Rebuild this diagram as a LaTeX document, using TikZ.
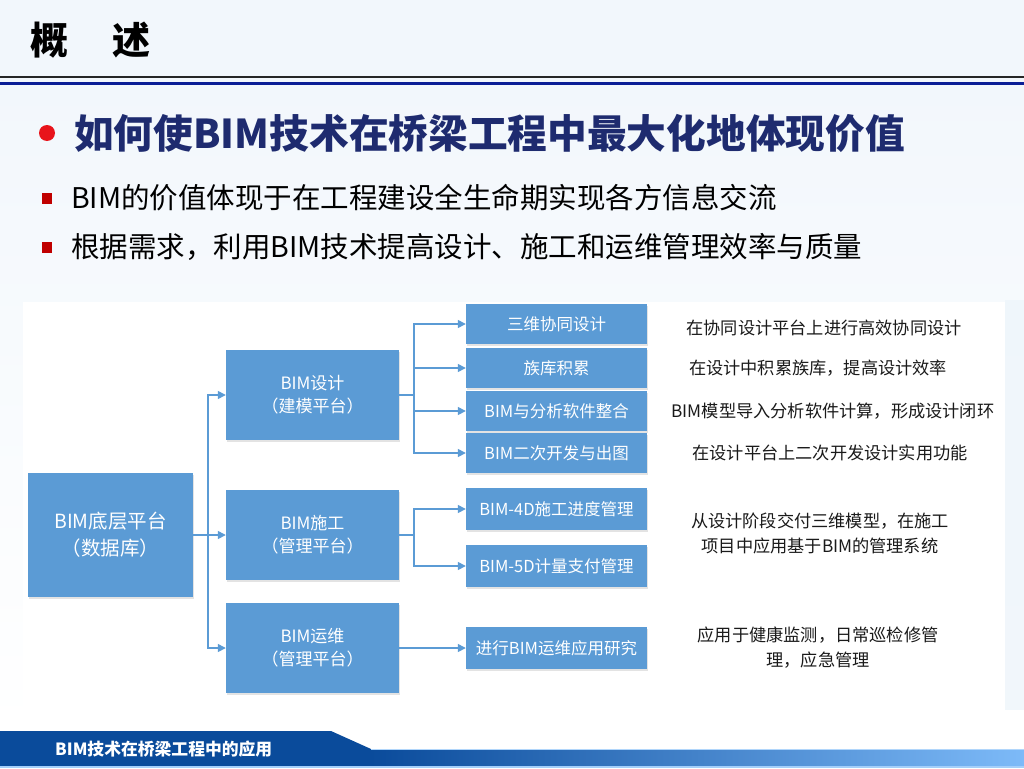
\documentclass[tikz,border=0pt]{standalone}
\usepackage{fontspec}
\setmainfont{Noto Sans CJK SC}
\usetikzlibrary{arrows.meta,shadows}
\definecolor{boxblue}{HTML}{5B9BD5}
\definecolor{navy}{HTML}{1E2B6F}
\definecolor{lineblue}{HTML}{0A1E96}
\definecolor{footdark}{HTML}{0A4B9B}
\definecolor{footlight}{HTML}{7DBAF8}
\definecolor{bgtop}{HTML}{F2F7FC}
\definecolor{bgmid}{HTML}{EEF5FB}
\definecolor{bulletred}{HTML}{E8141B}
\definecolor{squarered}{HTML}{C00000}
\definecolor{desctext}{HTML}{1A1A1A}
\tikzset{
  box/.style={fill=boxblue, text=white, inner sep=0pt, align=center,
    drop shadow={shadow xshift=1pt, shadow yshift=-1.5pt, opacity=0.22}},
  leftbox/.style={box, minimum width=165pt, minimum height=124pt, font=\fontsize{19.5}{27}\selectfont},
  midbox/.style={box, minimum width=173pt, minimum height=90pt, font=\fontsize{17}{23}\selectfont},
  rightbox/.style={box, minimum width=181pt, minimum height=40pt, font=\fontsize{16.5}{20}\selectfont},
  desc/.style={text=desctext, align=center, inner sep=0pt, font=\fontsize{17.2}{25}\selectfont},
  conn/.style={draw=boxblue, line width=1.4pt},
  arr/.style={conn, -{Triangle[length=8pt,width=8pt]}},
}
\begin{document}
\begin{tikzpicture}[x=1pt,y=-1pt]
\useasboundingbox (0,0) rectangle (1024,768);
% background
\fill[bgtop] (0,0) rectangle (1024,80);
\shade[top color=bgtop, bottom color=white] (0,80) rectangle (1024,730);
\fill[white] (0,730) rectangle (1024,768);
\fill[bgmid, opacity=0.8] (1005,300) rectangle (1024,710);
\fill[white] (23,302) rectangle (1005,712);
% title
\node[anchor=west, inner sep=0pt, font=\fontsize{38}{40}\selectfont\bfseries] (title) at (30,40) {概\hspace{44pt}述};
\draw[black!85, line width=1.2pt] (0,77) -- (1024,77);
\draw[lineblue, line width=3pt] (0,83.5) -- (1024,83.5);
% heading
\fill[bulletred] (47,133) circle (8);
\node[anchor=west, inner sep=0pt, text=navy, font=\fontsize{39.7}{44}\selectfont\bfseries] (head) at (74,133) {如何使BIM技术在桥梁工程中最大化地体现价值};
% bullets
\fill[squarered] (42,193) rectangle (52,204);
\node[anchor=west, inner sep=0pt, font=\fontsize{28.5}{32}\selectfont] (b1) at (71,198) {BIM的价值体现于在工程建设全生命期实现各方信息交流};
\fill[squarered] (42,242) rectangle (52,253);
\node[anchor=west, inner sep=0pt, font=\fontsize{28.5}{32}\selectfont] (b2) at (71,247) {根据需求，利用BIM技术提高设计、施工和运维管理效率与质量};
% diagram boxes
\node[leftbox] (L) at (110.5,535) {BIM底层平台\\（数据库）};
\node[midbox] (M1) at (312.5,395) {BIM设计\\（建模平台）};
\node[midbox] (M2) at (312.5,535) {BIM施工\\（管理平台）};
\node[midbox] (M3) at (312.5,648) {BIM运维\\（管理平台）};
\node[rightbox] (R1) at (556.5,324) {三维协同设计};
\node[rightbox] (R2) at (556.5,368) {族库积累};
\node[rightbox] (R3) at (556.5,411) {BIM与分析软件整合};
\node[rightbox] (R4) at (556.5,453) {BIM二次开发与出图};
\node[rightbox, minimum height=42pt] (R5) at (556.5,509) {BIM-4D施工进度管理};
\node[rightbox, minimum height=42pt] (R6) at (556.5,566) {BIM-5D计量支付管理};
\node[rightbox, minimum height=42pt] (R7) at (556.5,648) {进行BIM运维应用研究};
% connectors
\coordinate (ja) at (208,535);
\coordinate (jb) at (414,395);
\coordinate (jc) at (414,535);
\draw[conn] (L.east) -- (ja);
\draw[arr] (ja) |- (M1.west);
\draw[arr] (ja) -- (M2.west);
\draw[arr] (ja) |- (M3.west);
\draw[conn] (M1.east) -- (jb);
\draw[arr] (jb) |- (R1.west);
\draw[arr] (jb) |- (R2.west);
\draw[arr] (jb) |- (R3.west);
\draw[arr] (jb) |- (R4.west);
\draw[conn] (M2.east) -- (jc);
\draw[arr] (jc) |- (R5.west);
\draw[arr] (jc) |- (R6.west);
\draw[arr] (M3.east) -- (R7.west);
% descriptions
\node[desc] (D1) at (824,328) {在协同设计平台上进行高效协同设计};
\node[desc] (D2) at (818,368) {在设计中积累族库，提高设计效率};
\node[desc] (D3) at (833,411) {BIM模型导入分析软件计算，形成设计闭环};
\node[desc] (D4) at (830,453) {在设计平台上二次开发设计实用功能};
\node[desc] (D5) at (820,533.5) {从设计阶段交付三维模型，在施工\\项目中应用基于BIM的管理系统};
\node[desc] (D6) at (818,647.5) {应用于健康监测，日常巡检修管\\理，应急管理};
% footer
\fill[footdark] (0,731) -- (331,731) -- (371,749) -- (371,766) -- (0,766) -- cycle;
\shade[left color=footdark, right color=footlight] (371,749) rectangle (1024,766);
\draw[footlight!60!white, line width=0.8pt] (371,749.4) -- (1024,749.4);
\fill[footlight!70!white] (0,766) rectangle (1024,768);
\node[anchor=west, inner sep=0pt, text=white, font=\fontsize{16.8}{18}\selectfont\bfseries] (foot) at (55,749) {BIM技术在桥梁工程中的应用};
\end{tikzpicture}
\end{document}
